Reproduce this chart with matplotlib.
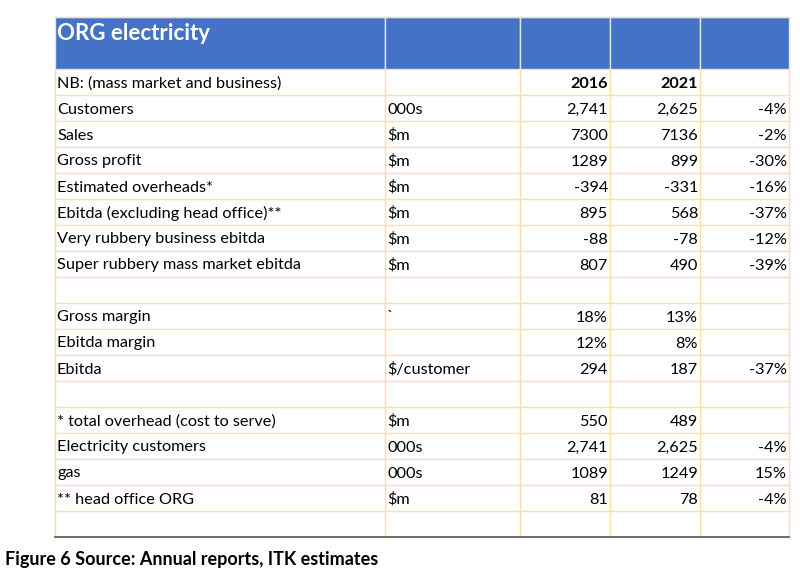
import matplotlib as mpl
mpl.use('Agg')
import matplotlib.pyplot as plt

# Table content
labels = ["NB: (mass market and business)", "Customers", "Sales", "Gross profit",
          "Estimated overheads*", "Ebitda (excluding head office)**",
          "Very rubbery business ebitda", "Super rubbery mass market ebitda", "",
          "Gross margin", "Ebitda margin", "Ebitda", "",
          "* total overhead (cost to serve)", "Electricity customers", "gas",
          "** head office ORG", ""]
units = ["", "000s", "$m", "$m", "$m", "$m", "$m", "$m", "",
         "`", "", "$/customer", "", "$m", "000s", "000s", "$m", ""]
col2016 = ["2016", "2,741", "7300", "1289", "-394", "895", "-88", "807", "",
           "18%", "12%", "294", "", "550", "2,741", "1089", "81", ""]
col2021 = ["2021", "2,625", "7136", "899", "-331", "568", "-78", "490", "",
           "13%", "8%", "187", "", "489", "2,625", "1249", "78", ""]
change = ["", "-4%", "-2%", "-30%", "-16%", "-37%", "-12%", "-39%", "",
          "", "", "-37%", "", "", "-4%", "15%", "-4%", ""]

title = "ORG electricity"
caption = "Figure 6 Source: Annual reports, ITK estimates"

# Layout (pixels)
colx = [55, 385, 520, 610, 700, 789]
head_top, head_bot = 17, 69
rowh = 26.0
gridc = '#f7e0a3'
blue = '#4472c4'
font = 'Lato'
fs = 11.7

fig = plt.figure(figsize=(8, 5.78), dpi=100)
ax = fig.add_axes([0, 0, 1, 1])
ax.set_xlim(0, 800)
ax.set_ylim(578, 0)
ax.axis('off')

# header band
for i in range(len(colx) - 1):
    ax.add_patch(plt.Rectangle((colx[i], head_top), colx[i+1] - colx[i], head_bot - head_top,
                               facecolor=blue, edgecolor='#dfe6f2', linewidth=1))
ax.plot([colx[0], colx[-1]], [head_top, head_top], color=gridc, lw=1)
ax.text(colx[0] + 2, 34, title, color='white', fontsize=16,
        fontweight='bold', family=font, va='center', ha='left')

nrows = len(labels)
bottom = head_bot + nrows * rowh
# grid
for r in range(nrows):
    y = head_bot + (r + 1) * rowh
    ax.plot([colx[0], colx[-1]], [y, y], color=gridc, lw=1)
for x in colx:
    ax.plot([x, x], [head_bot, bottom], color=gridc, lw=1)
ax.plot([colx[0], colx[-1]], [bottom, bottom], color='#555555', lw=1.2)

for r in range(nrows):
    yc = head_bot + r * rowh + rowh / 2 + 1.5
    wt = 'bold' if r == 0 else 'normal'
    ax.text(colx[0] + 2, yc, labels[r], fontsize=fs, family=font, va='center', ha='left')
    ax.text(colx[1] + 2, yc, units[r], fontsize=fs, family=font, va='center', ha='left')
    ax.text(colx[3] - 2, yc, col2016[r], fontsize=fs, family=font, va='center', ha='right', fontweight=wt)
    ax.text(colx[4] - 2, yc, col2021[r], fontsize=fs, family=font, va='center', ha='right', fontweight=wt)
    ax.text(colx[5] - 2, yc, change[r], fontsize=fs, family=font, va='center', ha='right')

ax.text(5, 559, caption, fontsize=13, fontweight='bold', family=font, va='center', ha='left')

fig.savefig('out.png', dpi=100)
